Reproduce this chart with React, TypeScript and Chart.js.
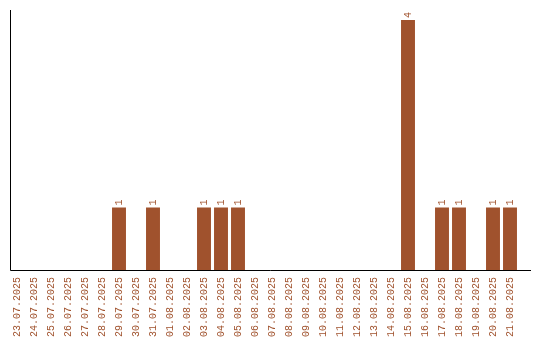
import React, { useEffect, useRef } from "react";
import { Chart, registerables } from "chart.js";

Chart.register(...registerables);

const categories: string[] = [
  "23.07.2025", "24.07.2025", "25.07.2025", "26.07.2025", "27.07.2025", "28.07.2025",
  "29.07.2025", "30.07.2025", "31.07.2025", "01.08.2025", "02.08.2025", "03.08.2025",
  "04.08.2025", "05.08.2025", "06.08.2025", "07.08.2025", "08.08.2025", "09.08.2025",
  "10.08.2025", "11.08.2025", "12.08.2025", "13.08.2025", "14.08.2025", "15.08.2025",
  "16.08.2025", "17.08.2025", "18.08.2025", "19.08.2025", "20.08.2025", "21.08.2025",
];

const counts: number[] = [
  0, 0, 0, 0, 0, 0,
  1, 0, 1, 0, 0, 1,
  1, 1, 0, 0, 0, 0,
  0, 0, 0, 0, 0, 4,
  0, 1, 1, 0, 1, 1,
];

const BROWN = "#a0522d";
const FONT = "'Liberation Mono', 'DejaVu Sans Mono', monospace";

const valueLabels = {
  id: "valueLabels",
  afterDatasetsDraw(chart: any) {
    const ctx = chart.ctx;
    const meta = chart.getDatasetMeta(0);
    ctx.save();
    ctx.fillStyle = BROWN;
    ctx.font = `10px ${FONT}`;
    ctx.textAlign = "left";
    ctx.textBaseline = "middle";
    meta.data.forEach((bar: any, i: number) => {
      const v = counts[i];
      if (!v) return;
      ctx.save();
      ctx.translate(bar.x, bar.y - 2);
      ctx.rotate(-Math.PI / 2);
      ctx.fillText(String(v), 0, 0);
      ctx.restore();
    });
    ctx.restore();
  },
};

const axisLines = {
  id: "axisLines",
  afterDraw(chart: any) {
    const { ctx, chartArea } = chart;
    const x0 = Math.round(chartArea.left + 1.5) + 0.5;
    const y0 = Math.round(chartArea.bottom) + 0.5;
    ctx.save();
    ctx.strokeStyle = "#000";
    ctx.lineWidth = 1;
    ctx.beginPath();
    ctx.moveTo(x0, chartArea.top);
    ctx.lineTo(x0, y0);
    ctx.lineTo(chartArea.right + 12.5, y0);
    ctx.stroke();
    ctx.restore();
  },
};

export default function App() {
  const ref = useRef<HTMLCanvasElement | null>(null);
  useEffect(() => {
    document.body.style.margin = "0";
    const chart = new Chart(ref.current as HTMLCanvasElement, {
      type: "bar",
      data: {
        labels: categories,
        datasets: [
          {
            data: counts,
            backgroundColor: BROWN,
            borderWidth: 0,
            barPercentage: 1,
            categoryPercentage: 0.82,
          },
        ],
      },
      options: {
        animation: false,
        responsive: false,
        maintainAspectRatio: false,
        layout: { padding: { left: 8.5, top: 10, right: 21.5, bottom: -4 } },
        plugins: {
          legend: { display: false },
          tooltip: { enabled: false },
        },
        scales: {
          x: {
            grid: { display: false, drawTicks: false },
            border: { display: false },
            ticks: {
              color: BROWN,
              font: { family: FONT, size: 10 },
              minRotation: 90,
              maxRotation: 90,
              autoSkip: false,
              padding: 7,
            },
          },
          y: {
            min: 0,
            max: 4.16,
            grid: { display: false, drawTicks: false },
            border: { display: false },
            ticks: { display: false },
          },
        },
      },
      plugins: [valueLabels, axisLines],
    });
    return () => chart.destroy();
  }, []);
  return (
    <div style={{ position: "absolute", left: 0, top: 0, width: 540, height: 340 }}>
      <canvas ref={ref} width={540} height={340} />
    </div>
  );
}
